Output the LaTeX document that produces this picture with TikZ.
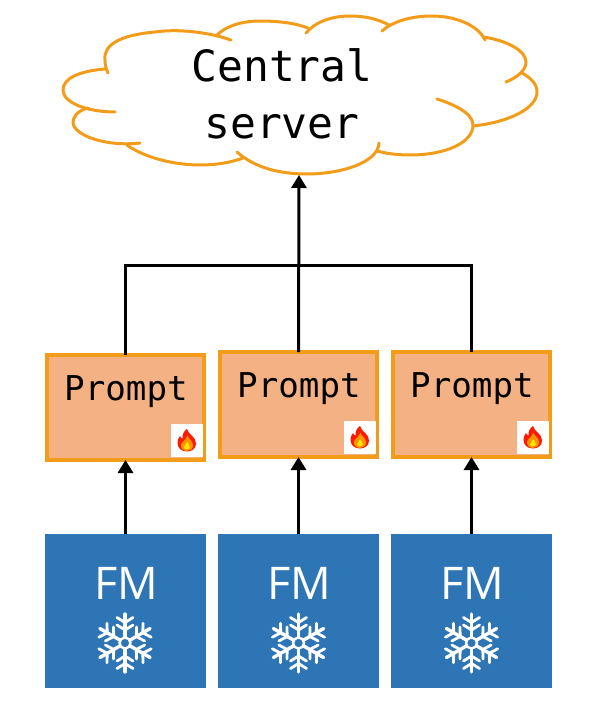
\documentclass[tikz,border=0pt]{standalone}
\usepackage{fontspec}
\setmainfont{Open Sans}
\setmonofont{DejaVu Sans Mono}
\usetikzlibrary{arrows.meta}
\definecolor{edgeorange}{HTML}{F39C1A}
\definecolor{promptfill}{HTML}{F4B183}
\definecolor{fmblue}{HTML}{2E75B6}
\tikzset{
  promptbox/.style={draw=edgeorange,line width=4pt,fill=promptfill,minimum width=157pt,minimum height=105pt,inner sep=0pt,outer sep=0pt},
  promptlabel/.style={font=\ttfamily\fontsize{34.2}{40}\selectfont,inner sep=0pt},
  fmbox/.style={fill=fmblue,minimum width=161pt,minimum height=154pt,inner sep=0pt},
  fmlabel/.style={font=\fontsize{45}{52}\selectfont,text=white,inner sep=0pt},
  badge/.style={fill=white,minimum width=32pt,minimum height=33pt,inner sep=0pt},
  link/.style={line width=3pt,black},
  linkarrow/.style={link,-{Triangle[length=13pt,width=15pt]}},
  cloudline/.style={draw=edgeorange,line width=3pt,line cap=round},
  flake/.pic={
    \begin{scope}[white,line cap=round]
      \foreach \a in {30,90,...,330}{
        \draw[line width=3.4pt] (\a:6) -- (\a:29);
        \draw[line width=2.8pt] (\a:13) -- ++(\a+58:9.5);
        \draw[line width=2.8pt] (\a:13) -- ++(\a-58:9.5);
        \draw[line width=2.8pt] (\a:20.5) -- ++(\a+58:9.5);
        \draw[line width=2.8pt] (\a:20.5) -- ++(\a-58:9.5);
      }
      \draw[line width=2.4pt] (0,0) circle (5.5);
    \end{scope}
  },
  flame/.pic={
    \begin{scope}[yscale=-1]
    \fill[red!80!orange] (0,11.5) .. controls (1,6) and (9,4) .. (9,-3) .. controls (9,-8) and (5,-11) .. (0,-11) .. controls (-6,-11) and (-9.5,-7) .. (-9.5,-2.5) .. controls (-9.5,1) and (-8,3) .. (-7,4.5) .. controls (-6.5,3) and (-5.5,2) .. (-4.5,2) .. controls (-5,6) and (-3,9.5) .. (0,11.5) -- cycle;
    \fill[orange!85!yellow] (0.5,5) .. controls (1,1.5) and (6,0) .. (6,-5) .. controls (6,-8.5) and (3,-10.5) .. (0,-10.5) .. controls (-3.5,-10.5) and (-6.5,-8) .. (-6,-4) .. controls (-5.5,-1.5) and (-1.5,0) .. (0.5,5) -- cycle;
    \fill[yellow!90!orange] (0.3,-1.5) .. controls (1,-3.5) and (3,-5) .. (2.8,-7) .. controls (2.6,-9.2) and (-2.6,-9.5) .. (-2.9,-6.8) .. controls (-3,-5) and (-0.5,-4) .. (0.3,-1.5) -- cycle;
    \end{scope}
  }
}
\begin{document}
\begin{tikzpicture}[x=1pt,y=-1pt]
\useasboundingbox (0,0) rectangle (591,720);
% cloud
\begin{scope}[cloudline]
\draw (231,40) .. controls (205,31) and (175,29) .. (155,32) .. controls (120,35) and (103,45) .. (105,60) .. controls (105,65) and (106,69) .. (108,73);
\draw (105,69) .. controls (80,71) and (63,78) .. (63,90) .. controls (63,103) and (88,112) .. (115,112);
\draw (88,108) .. controls (76,111) and (73,118) .. (73,123) .. controls (74,135) and (105,147) .. (140,143);
\draw (127,145) .. controls (145,158) and (175,165) .. (200,165) .. controls (218,165) and (232,162) .. (243,158);
\draw (237,152) .. controls (255,168) and (280,174) .. (307,174) .. controls (340,174) and (378,163) .. (379,143);
\draw (377,151) .. controls (388,154) and (400,155) .. (410,155) .. controls (445,155) and (473,143) .. (473,125) .. controls (473,113) and (453,104) .. (437,99);
\draw (473,126) .. controls (510,122) and (537,108) .. (537,92) .. controls (537,84) and (531,78) .. (522,73);
\draw (506,82) .. controls (518,77) and (526,70) .. (526,62) .. controls (526,50) and (505,40) .. (483,37);
\draw (485,40) .. controls (478,25) and (455,16) .. (432,16) .. controls (410,16) and (392,22) .. (382,31);
\draw (389,25) .. controls (378,19) and (365,16) .. (350,16) .. controls (330,16) and (314,23) .. (306,33);
\draw (308,28) .. controls (295,23) and (278,21) .. (260,21) .. controls (240,21) and (225,27) .. (217,35);
\end{scope}
\node[font=\ttfamily\fontsize{43}{57}\selectfont,align=center,inner sep=0pt] (cloud) at (282,94) {Central\\server};
\coordinate (cloudbase) at (299,175);
\coordinate (bus) at (299,265.5);
% prompts
\node[promptbox] (p1) at (125.5,407.5) {};
\node[promptbox] (p2) at (298.5,404.5) {};
\node[promptbox] (p3) at (471.5,404.5) {};
\node[promptlabel] (t1) at (126,392) {Prompt};
\node[promptlabel] (t2) at (299,389) {Prompt};
\node[promptlabel] (t3) at (472,389) {Prompt};
\node[badge] (b1) at (187,440.5) {};
\node[badge] (b2) at (360,437.5) {};
\node[badge] (b3) at (533,437.5) {};
\path (b1) pic {flame};
\path (b2) pic {flame};
\path (b3) pic {flame};
% FM
\node[fmbox] (f1) at (125.5,611) {};
\node[fmbox] (f2) at (298.5,611) {};
\node[fmbox] (f3) at (471.5,611) {};
\node[fmlabel] (l1) at (126.5,583) {FM};
\node[fmlabel] (l2) at (299.5,583) {FM};
\node[fmlabel] (l3) at (472.5,583) {FM};
\path (125,643) pic {flake};
\path (298.5,643) pic {flake};
\path (471.5,643) pic {flake};
% connectors
\draw[link] (p1.north) |- (bus) -| (p3.north);
\draw[linkarrow] (p2.north) -- (cloudbase);
\draw[linkarrow] (f1.north) -- (p1.south);
\draw[linkarrow] (f2.north) -- (p2.south);
\draw[linkarrow] (f3.north) -- (p3.south);
\end{tikzpicture}
\end{document}
